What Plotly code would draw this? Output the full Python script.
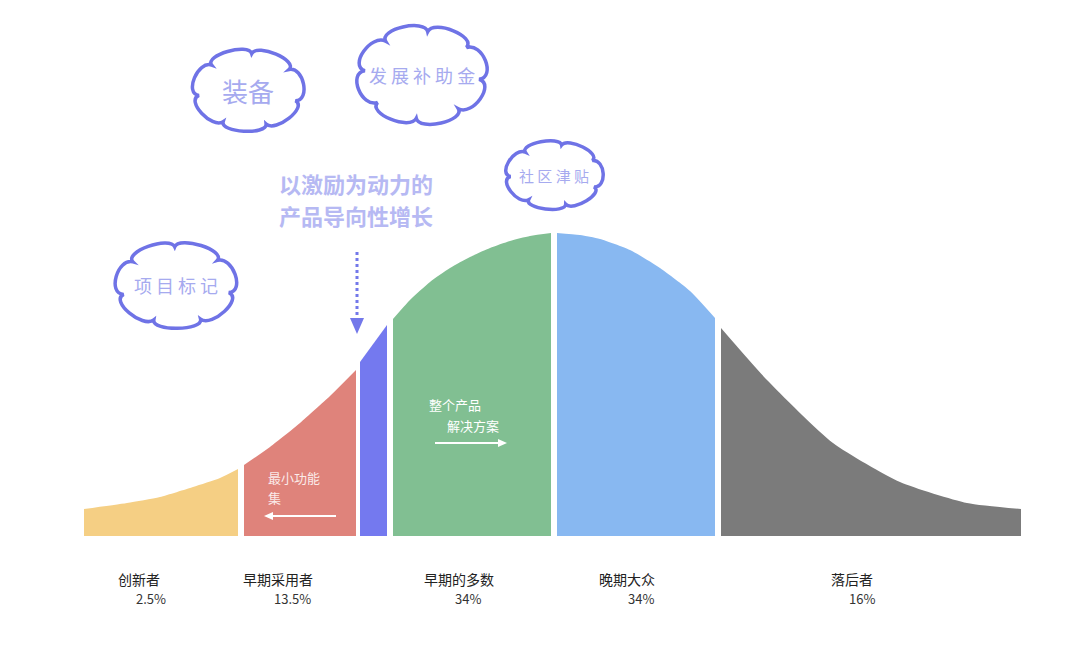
import numpy as np
import plotly.graph_objects as go

# 五类采用者及占比
groups = ["创新者", "早期采用者", "早期的多数", "晚期大众", "落后者"]
shares = ["2.5%", "13.5%", "34%", "34%", "16%"]

# 钟形曲线：横坐标与高度（基线为 0）
curve_x = [84, 127, 160, 193, 220, 238,
           244, 270, 300, 330, 356,
           360, 387,
           393, 410, 430, 450, 470, 490, 510, 530, 551,
           557, 580, 600, 630, 660, 690, 715,
           721, 767, 833, 900, 967, 1021]
curve_h = [27, 33, 39, 49, 58, 67,
           71, 89, 113, 140, 166,
           174, 211,
           217, 236, 254, 268, 279, 288, 295, 300, 303,
           303, 301, 297, 286, 268, 245, 218,
           208, 156, 93, 54, 33, 27]

# 各色块的起止位置
seg_start = [84, 244, 360, 393, 557, 721]
seg_end = [238, 356, 387, 551, 715, 1021]
seg_color = ["#F5CF84", "#DF837B", "#7479EF", "#81BF92", "#88B8F1", "#7B7B7B"]

# 云朵标签
cloud_text = ["装备", "发 展 补 助 金", "社 区 津 贴", "项 目 标 记"]

BASE = 536  # 基线所在的像素行
PAD = 8     # 页面 body 的默认边距
FONT = "Noto Sans CJK SC"


def Y(py):
    return BASE - py


fig = go.Figure()

cx = np.array(curve_x)
ch = np.array(curve_h)
for s, e, c in zip(seg_start, seg_end, seg_color):
    m = (cx >= s) & (cx <= e)
    fig.add_trace(go.Scatter(x=cx[m], y=ch[m], fill="tozeroy", fillcolor=c,
                             mode="lines", line=dict(width=0, shape="spline", smoothing=0.6),
                             hoverinfo="skip", showlegend=False))

# 虚线箭头
fig.add_trace(go.Scatter(x=[357, 357], y=[Y(252), Y(316)], mode="lines",
                         line=dict(color="#7378EA", width=3, dash="dot"),
                         hoverinfo="skip", showlegend=False))


def cloud_path(cxp, cyp, rx, ry, n, phase):
    a, b = rx / 1.15, ry / 1.15
    d = 2 * np.pi / n
    path = ""
    for i in range(n):
        t0 = phase + i * d
        t1 = t0 + d
        p0 = (cxp + a * np.cos(t0), cyp + b * np.sin(t0))
        p1 = (cxp + a * np.cos(t1), cyp + b * np.sin(t1))
        c1 = (cxp + 1.3 * a * np.cos(t0 + 0.08 * d), cyp + 1.3 * b * np.sin(t0 + 0.08 * d))
        c2 = (cxp + 1.3 * a * np.cos(t1 - 0.08 * d), cyp + 1.3 * b * np.sin(t1 - 0.08 * d))
        if i == 0:
            path += f"M{p0[0]:.1f},{Y(p0[1]):.1f} "
        path += (f"C{c1[0]:.1f},{Y(c1[1]):.1f} {c2[0]:.1f},{Y(c2[1]):.1f} "
                 f"{p1[0]:.1f},{Y(p1[1]):.1f} ")
    return path + "Z"


clouds = [
    (248, 90, 57, 42, 7, 0.3, 26),
    (422, 75, 66, 50, 8, 0.1, 18),
    (554, 175, 50, 35, 7, 0.4, 15),
    (176, 285, 62, 44, 7, 0.2, 18),
]
shapes = []
annotations = []
for (x0, y0, rx, ry, n, ph, fs), txt in zip(clouds, cloud_text):
    shapes.append(dict(type="path", path=cloud_path(x0, y0, rx, ry, n, ph),
                       line=dict(color="#6F73E6", width=3.5), fillcolor="white",
                       layer="above"))
    annotations.append(dict(x=x0, y=Y(y0), text=txt, showarrow=False,
                            font=dict(family=FONT, size=fs, color="#A6AAEF")))

# 箭头头部
shapes.append(dict(type="path", path=f"M350,{Y(318)} L364,{Y(318)} L357,{Y(334)} Z",
                   fillcolor="#7378EA", line=dict(width=0)))
shapes.append(dict(type="line", x0=272, x1=336, y0=Y(516), y1=Y(516),
                   line=dict(color="white", width=2)))
shapes.append(dict(type="path", path=f"M264,{Y(516)} L273,{Y(512)} L273,{Y(520)} Z",
                   fillcolor="white", line=dict(width=0)))
shapes.append(dict(type="line", x0=435, x1=499, y0=Y(443), y1=Y(443),
                   line=dict(color="white", width=2)))
shapes.append(dict(type="path", path=f"M507,{Y(443)} L498,{Y(439)} L498,{Y(447)} Z",
                   fillcolor="white", line=dict(width=0)))

# 标题（两行）
for line, yy in zip(["以激励为动力的", "产品导向性增长"], [183, 215]):
    annotations.append(dict(x=277, y=Y(yy), text=f"<b>{line}</b>", showarrow=False,
                            xanchor="left",
                            font=dict(family=FONT, size=22, color="#B6B9F3")))
# 色块内文字
annotations.append(dict(x=266, y=Y(477), text="最小功能", showarrow=False,
                        xanchor="left",
                        font=dict(family=FONT, size=13, color="rgba(255,255,255,0.85)")))
annotations.append(dict(x=266, y=Y(497), text="集", showarrow=False,
                        xanchor="left",
                        font=dict(family=FONT, size=13, color="rgba(255,255,255,0.85)")))
annotations.append(dict(x=427, y=Y(404), text="整个产品", showarrow=False, xanchor="left",
                        font=dict(family=FONT, size=13, color="white")))
annotations.append(dict(x=445, y=Y(425), text="解决方案", showarrow=False, xanchor="left",
                        font=dict(family=FONT, size=13, color="white")))

# 底部类别与占比
name_x = [139, 278, 459, 627, 852]
pct_x = [151, 292, 468, 641, 862]
for g, p, nx, px in zip(groups, shares, name_x, pct_x):
    annotations.append(dict(x=nx, y=Y(579), text=g, showarrow=False,
                            font=dict(family=FONT, size=14, color="#222222")))
    annotations.append(dict(x=px, y=Y(598), text=p, showarrow=False,
                            font=dict(family=FONT, size=13, color="#333333")))

fig.update_layout(
    width=1080 - PAD, height=657 - PAD,
    margin=dict(l=0, r=0, t=0, b=0),
    plot_bgcolor="white", paper_bgcolor="white",
    xaxis=dict(range=[PAD, 1080], visible=False, fixedrange=True),
    yaxis=dict(range=[Y(657), Y(PAD)], visible=False, fixedrange=True),
    shapes=shapes, annotations=annotations,
)

fig.write_html("out.html")
